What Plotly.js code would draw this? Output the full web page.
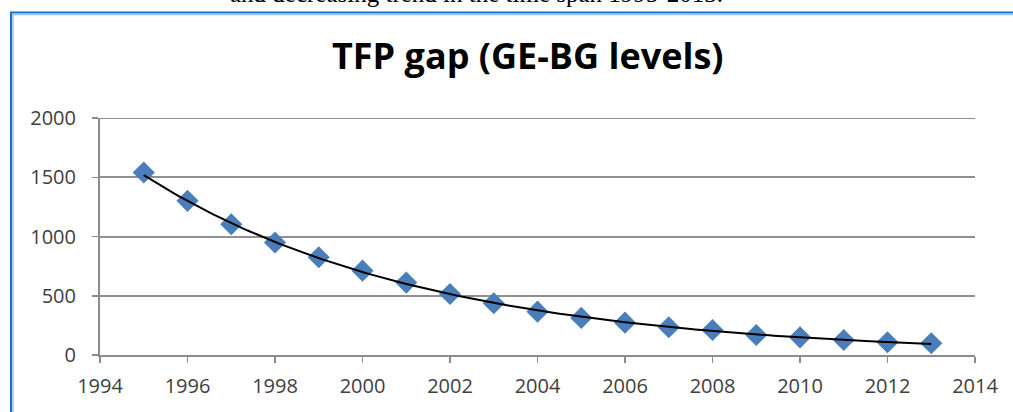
<!DOCTYPE html>
<html>
<head>
<meta charset="utf-8">
<script src="https://cdn.plot.ly/plotly-3.0.1.min.js"></script>
<style>
  html, body { margin: 0; padding: 0; background: #fff; }
  #chart { width: 1013px; height: 412px; }
</style>
</head>
<body>
<div id="chart"></div>
<script>
const years = [1995,1996,1997,1998,1999,2000,2001,2002,2003,2004,2005,2006,2007,2008,2009,2010,2011,2012,2013];
const tfpGap = [1540,1301,1104,949,825,712,611,515,437,366,313,273,234,211,169,149,127,107,99];
const xTicks = [1994,1996,1998,2000,2002,2004,2006,2008,2010,2012,2014];
const yTicks = [0,500,1000,1500,2000];
const titleText = 'TFP gap (GE-BG levels)';
const captionText = 'and decreasing trend in the time span 1995-2013.';

// Exponential trendline (least squares on ln y), like a spreadsheet trendline
const n = years.length;
let sx = 0, sy = 0, sxx = 0, sxy = 0;
for (let i = 0; i < n; i++) {
  const x = years[i] - years[0], y = Math.log(tfpGap[i]);
  sx += x; sy += y; sxx += x * x; sxy += x * y;
}
const b = (n * sxy - sx * sy) / (n * sxx - sx * sx);
const a = (sy - b * sx) / n;
const trendX = [], trendY = [];
const steps = 180;
for (let k = 0; k <= steps; k++) {
  const x = years[0] + (years[n - 1] - years[0]) * k / steps;
  trendX.push(x);
  trendY.push(Math.exp(a + b * (x - years[0])));
}

const tickFont = { family: 'Open Sans, Noto Sans, sans-serif', size: 20, color: '#404040' };

const data = [
  {
    x: years, y: tfpGap, type: 'scatter', mode: 'markers',
    marker: { symbol: 'diamond', size: 17, color: '#4a7ebb' },
    hoverinfo: 'x+y', showlegend: false
  },
  {
    x: trendX, y: trendY, type: 'scatter', mode: 'lines',
    line: { color: '#000000', width: 2 },
    hoverinfo: 'skip', showlegend: false
  }
];

const layout = {
  width: 1013, height: 412,
  margin: { l: 100, r: 38, t: 118, b: 57 },
  paper_bgcolor: '#ffffff', plot_bgcolor: '#ffffff',
  showlegend: false,
  title: {
    text: '<b>' + titleText + '</b>',
    font: { family: 'Open Sans, Noto Sans, sans-serif', size: 36, color: '#000000' },
    x: 0.521, xanchor: 'center', y: 0.862, yanchor: 'middle'
  },
  xaxis: {
    range: [1994, 2014], tickvals: xTicks, ticktext: xTicks.map(String),
    showgrid: false, zeroline: false,
    showline: true, linecolor: '#8c8c8c', linewidth: 2,
    ticks: 'outside', ticklen: 6, tickwidth: 1.5, tickcolor: '#8c8c8c',
    ticklabelstandoff: 6,
    tickfont: tickFont
  },
  yaxis: {
    range: [0, 2000], tickvals: yTicks, ticktext: yTicks.map(String),
    showgrid: true, gridcolor: '#909090', gridwidth: 2,
    zeroline: false,
    showline: true, linecolor: '#8c8c8c', linewidth: 2,
    ticks: 'outside', ticklen: 6, tickwidth: 1.5, tickcolor: '#8c8c8c',
    ticklabelstandoff: 12,
    tickfont: tickFont
  },
  shapes: [
    { type: 'line', xref: 'paper', yref: 'y', x0: 0, x1: 1,
      y0: yTicks[yTicks.length - 1], y1: yTicks[yTicks.length - 1],
      line: { color: '#909090', width: 2 }, layer: 'below' }
  ],
  annotations: [
    {
      text: captionText, xref: 'paper', yref: 'paper', showarrow: false,
      x: (476 - 100) / 875, xanchor: 'center',
      y: (412 - 57 - 9) / 237, yanchor: 'bottom',
      font: { family: 'Liberation Serif, Times New Roman, serif', size: 25, color: '#000000' }
    }
  ]
};

Plotly.newPlot('chart', data, layout, { staticPlot: true, displayModeBar: false }).then(() => {
  // document frame lines (top and left border of the embedding box)
  const svg = document.querySelector('#chart .main-svg:last-of-type');
  const ns = 'http://www.w3.org/2000/svg';
  const g = document.createElementNS(ns, 'g');
  const mk = (x1, y1, x2, y2, c, w) => {
    const l = document.createElementNS(ns, 'line');
    l.setAttribute('x1', x1); l.setAttribute('y1', y1);
    l.setAttribute('x2', x2); l.setAttribute('y2', y2);
    l.setAttribute('stroke', c); l.setAttribute('stroke-width', w);
    g.appendChild(l);
  };
  mk(10, 12.5, 1013, 12.5, '#1a6fc6', 2);
  mk(12, 14.5, 1013, 14.5, '#9cc3ea', 1.5);
  mk(11, 12, 11, 412, '#1a6fc6', 2);
  mk(13, 14, 13, 412, '#9cc3ea', 1.5);
  svg.appendChild(g);
});
</script>
</body>
</html>
